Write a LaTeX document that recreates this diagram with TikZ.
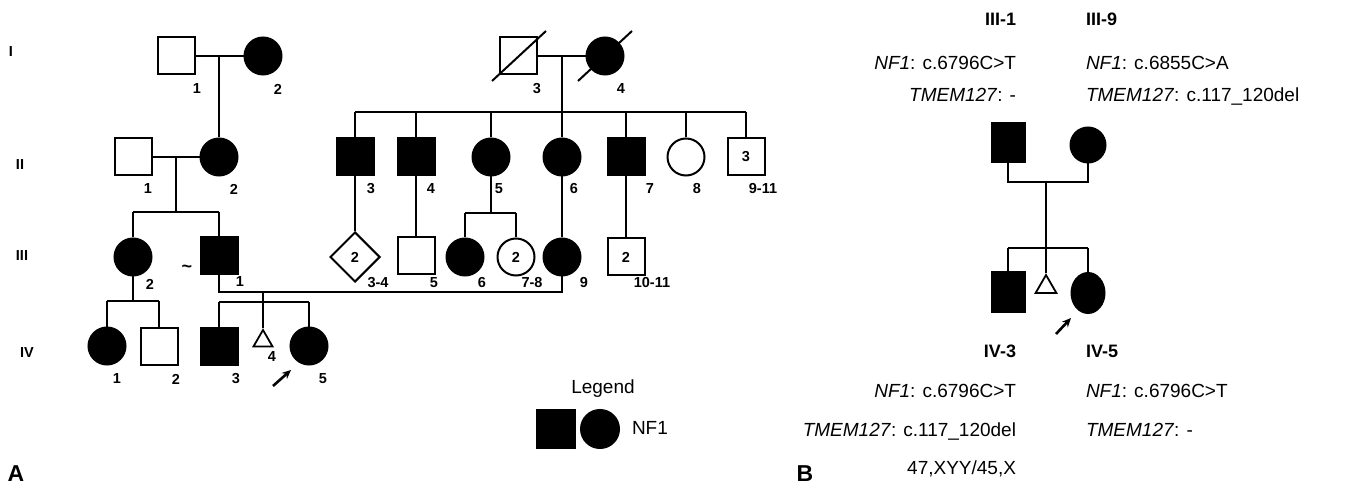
\documentclass[tikz,border=0pt]{standalone}
\usepackage{fontspec}
\setmainfont{Liberation Sans}
\usetikzlibrary{shapes.geometric,arrows.meta}

\begin{document}
\begin{tikzpicture}[x=1pt,y=-1pt,line width=2pt,
  ind/.style={draw,line width=2pt,inner sep=0pt,font=\bfseries\fontsize{14.5}{14.5}\selectfont},
  male/.style={ind,rectangle,minimum size=37pt},
  female/.style={ind,circle,minimum size=37pt},
  twin/.style={ind,diamond,minimum width=50pt,minimum height=50pt},
  loss/.style={ind,regular polygon,regular polygon sides=3,line width=1.8pt},
  aff/.style={fill=black},
  num/.style={font=\bfseries\fontsize{14.5}{14.5}\selectfont,inner sep=0pt},
  gen/.style={font=\bfseries\fontsize{14.5}{14.5}\selectfont,inner sep=0pt},
  panel/.style={font=\bfseries\fontsize{23}{23}\selectfont,inner sep=0pt},
  gt/.style={font=\fontsize{19}{19}\selectfont,inner sep=0pt},
  idt/.style={font=\bfseries\fontsize{18}{18}\selectfont,inner sep=0pt},
  pointer/.style={line width=2.6pt,-{Stealth[length=9pt,width=8pt]}}]
\useasboundingbox (0,0) rectangle (1357,486);

% ---------------- Panel A ----------------
% generation labels
\node[gen] (gI) at (11,52) {I};
\node[gen] (gII) at (20,165) {II};
\node[gen] (gIII) at (22,256) {III};
\node[gen] (gIV) at (27,353) {IV};

% generation I
\node[male] (I1) at (176,56) {};
\node[female,aff] (I2) at (263,56) {};
\node[male] (I3) at (518,56) {};
\node[female,aff] (I4) at (605,56) {};
\draw ([shift={(-26,25)}]I3.center) -- ([shift={(28,-25)}]I3.center);
\draw ([shift={(-27,25)}]I4.center) -- ([shift={(27,-25)}]I4.center);

% generation II
\node[male] (II1) at (133,157) {};
\node[female,aff] (II2) at (219,157) {};
\node[male,aff] (II3) at (355,157) {};
\node[male,aff] (II4) at (416,157) {};
\node[female,aff] (II5) at (491,157) {};
\node[female,aff] (II6) at (562,157) {};
\node[male,aff] (II7) at (626,157) {};
\node[female] (II8) at (686,157) {};
\node[male] (II9) at (746,157) {3};

% generation III
\node[female,aff] (III2) at (133,257) {};
\node[male,aff] (III1) at (219,256) {};
\node[twin] (III3) at (355,257) {2};
\node[male] (III5) at (416,256) {};
\node[female,aff] (III6) at (465,257) {};
\node[female] (III7) at (516,257) {2};
\node[female,aff] (III9) at (562,257) {};
\node[male] (III10) at (626,257) {2};
\node[font=\bfseries\fontsize{18}{18}\selectfont,inner sep=0pt] (tilde) at (187,269) {\char`~};

% generation IV
\node[female,aff] (IV1) at (107,346) {};
\node[male] (IV2) at (159,346) {};
\node[male,aff] (IV3) at (219,346) {};
\node[loss,minimum size=22pt] (IV4) at (263,341) {};
\node[female,aff] (IV5) at (309,346) {};

% individual numbers
\node[num] (nI1) at (197,89) {1};
\node[num] (nI2) at (278,89) {2};
\node[num] (nI3) at (537,89) {3};
\node[num] (nI4) at (621,89) {4};
\node[num] (nII1) at (148,189) {1};
\node[num] (nII2) at (234,189) {2};
\node[num] (nII3) at (371,189) {3};
\node[num] (nII4) at (431,189) {4};
\node[num] (nII5) at (499,189) {5};
\node[num] (nII6) at (574,189) {6};
\node[num] (nII7) at (650,189) {7};
\node[num] (nII8) at (697,189) {8};
\node[num] (nII9) at (763,189) {9-11};
\node[num] (nIII2) at (150,284) {2};
\node[num] (nIII1) at (240,282) {1};
\node[num] (nIII3) at (378,283) {3-4};
\node[num] (nIII5) at (434,283) {5};
\node[num] (nIII6) at (482,283) {6};
\node[num] (nIII7) at (532,283) {7-8};
\node[num] (nIII9) at (584,283) {9};
\node[num] (nIII10) at (652,283) {10-11};
\node[num] (nIV1) at (117,379) {1};
\node[num] (nIV2) at (176,379) {2};
\node[num] (nIV3) at (236,379) {3};
\node[num] (nIV4) at (272,357) {4};
\node[num] (nIV5) at (323,379) {5};

% lines of descent
\coordinate (mI12) at (219,56);
\draw (I1) -- (I2);
\draw (mI12) -- (II2);

\coordinate (mI34) at (562,56);
\coordinate (sI34) at (562,112);
\draw (I3) -- (I4);
\draw (mI34) -- (sI34);
\draw (II3 |- sI34) -- (II9 |- sI34);
\foreach \c in {II3,II4,II5,II6,II7,II8,II9} \draw (\c |- sI34) -- (\c);

\coordinate (mII12) at (176,157);
\coordinate (sII12) at (176,212);
\draw (II1) -- (II2);
\draw (mII12) -- (sII12);
\draw (III2 |- sII12) -- (III1 |- sII12);
\draw (III2 |- sII12) -- (III2);
\draw (III1 |- sII12) -- (III1);

\draw (II3) -- (III3);
\draw (II4) -- (III5);
\coordinate (sII5) at (491,213);
\draw (II5) -- (sII5);
\draw (III6 |- sII5) -- (III7 |- sII5);
\draw (III6 |- sII5) -- (III6);
\draw (III7 |- sII5) -- (III7);
\draw (II6) -- (III9);
\draw (II7) -- (III10);

\coordinate (sIII2) at (133,301);
\draw (III2) -- (sIII2);
\draw (IV1 |- sIII2) -- (IV2 |- sIII2);
\draw (IV1 |- sIII2) -- (IV1);
\draw (IV2 |- sIII2) -- (IV2);

\coordinate (mate) at (263,292);
\coordinate (sIV) at (263,302);
\draw (III1) -- (III1 |- mate) -- (III9 |- mate) -- (III9);
\draw (mate) -- (IV4);
\draw (IV3 |- sIV) -- (IV5 |- sIV);
\draw (IV3 |- sIV) -- (IV3);
\draw (IV5 |- sIV) -- (IV5);

% proband
\coordinate (pA0) at (273,386);
\coordinate (pA1) at (291,370);
\draw[pointer] (pA0) -- (pA1);

% legend
\node[font=\fontsize{19}{19}\selectfont,inner sep=0pt] (leg) at (603,389) {Legend};
\node[male,aff,minimum size=38pt] (legM) at (556,429) {};
\node[female,aff,minimum size=38pt] (legF) at (600,429) {};
\node[anchor=west,font=\fontsize{19}{19}\selectfont,inner sep=0pt] (legT) at (631,428) {NF1};

\node[panel] (pa) at (16,474) {A};

% ---------------- Panel B ----------------
\node[male,aff,minimum width=33pt,minimum height=39pt] (B1) at (1008,143) {};
\node[female,aff,minimum size=35pt] (B9) at (1088,145) {};
\node[male,aff,minimum width=33pt,minimum height=39pt] (B3) at (1008,292) {};
\node[loss,minimum size=24pt] (B4) at (1046,287) {};
\node[ind,ellipse,aff,minimum width=33pt,minimum height=40pt] (B5) at (1088,293) {};

\coordinate (Bm) at (1046,182);
\coordinate (Bs) at (1046,248);
\draw (B1) -- (B1 |- Bm) -- (B9 |- Bm) -- (B9);
\draw (Bm) -- (B4);
\draw (B3 |- Bs) -- (B5 |- Bs);
\draw (B3 |- Bs) -- (B3);
\draw (B5 |- Bs) -- (B5);

\coordinate (pB0) at (1056,334);
\coordinate (pB1) at (1071,318);
\draw[pointer] (pB0) -- (pB1);

% genotypes
\node[idt,anchor=base east] (tB1) at (1017,26) {III-1};
\node[gt,anchor=base east] (tB1a) at (1017,70) {\textit{NF1}: c.6796C>T};
\node[gt,anchor=base east] (tB1b) at (1017,102) {\textit{TMEM127}: -};
\node[idt,anchor=base west] (tB9) at (1085,26) {III-9};
\node[gt,anchor=base west] (tB9a) at (1085,70) {\textit{NF1}: c.6855C>A};
\node[gt,anchor=base west] (tB9b) at (1085,102) {\textit{TMEM127}: c.117\_120del};

\node[idt,anchor=base east] (tB3) at (1017,357) {IV-3};
\node[gt,anchor=base east] (tB3a) at (1017,397) {\textit{NF1}: c.6796C>T};
\node[gt,anchor=base east] (tB3b) at (1017,436) {\textit{TMEM127}: c.117\_120del};
\node[gt,anchor=base east] (tB3c) at (1017,474) {47,XYY/45,X};
\node[idt,anchor=base west] (tB5) at (1085,357) {IV-5};
\node[gt,anchor=base west] (tB5a) at (1085,397) {\textit{NF1}: c.6796C>T};
\node[gt,anchor=base west] (tB5b) at (1085,436) {\textit{TMEM127}: -};

\node[panel] (pb) at (805,474) {B};
\end{tikzpicture}
\end{document}
